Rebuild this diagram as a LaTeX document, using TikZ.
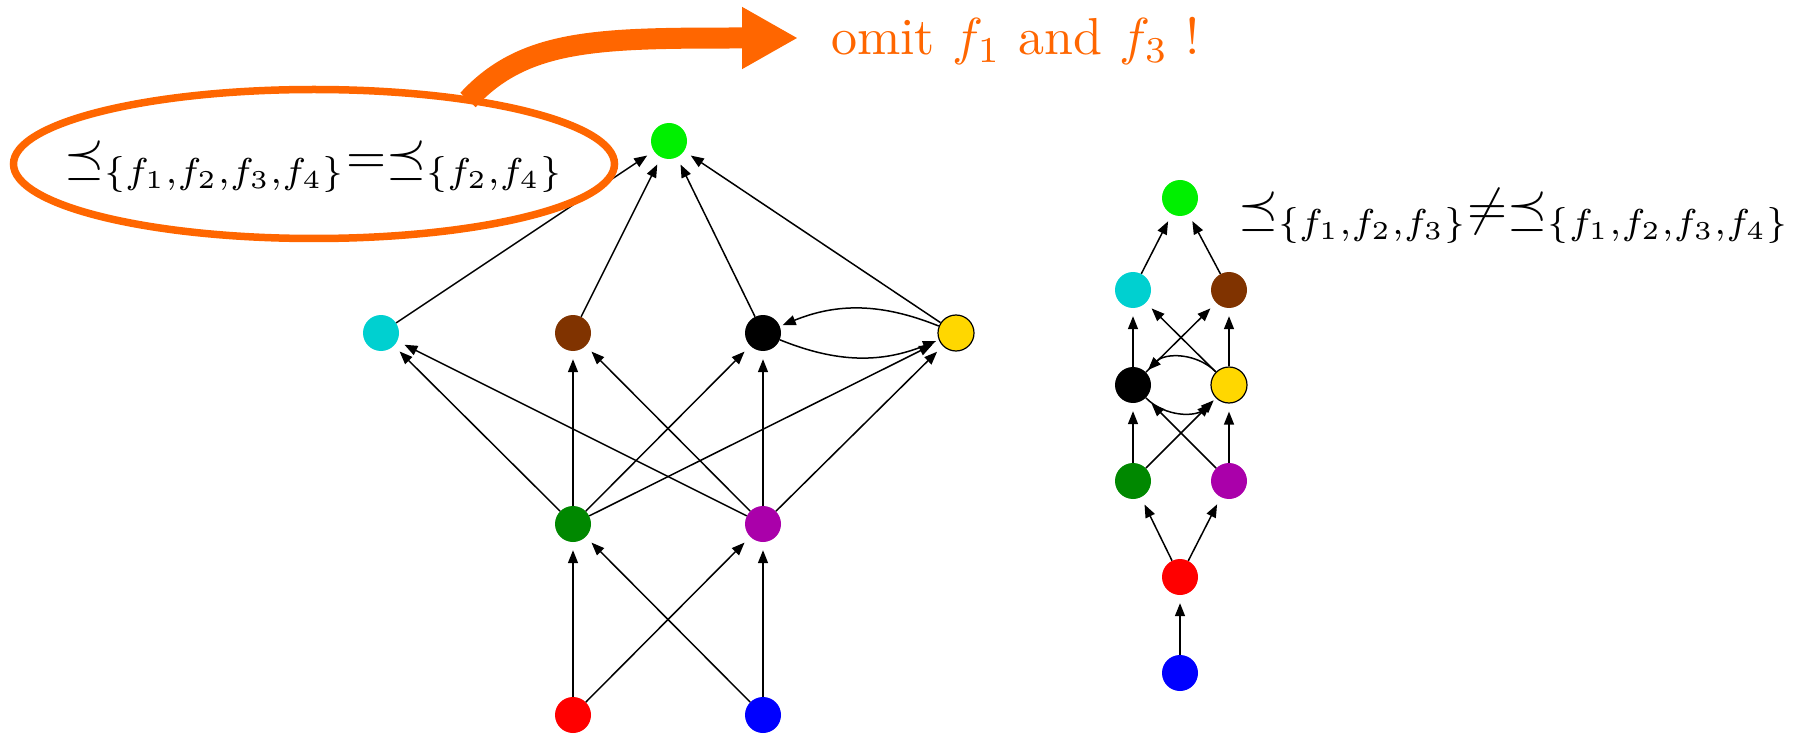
\documentclass[tikz,border=0pt]{standalone}
\usetikzlibrary{arrows.meta,shapes.geometric}
\definecolor{orng}{RGB}{255,102,0}
\definecolor{cTop}{RGB}{0,240,0}
\definecolor{cCyan}{RGB}{0,208,208}
\definecolor{cBrown}{RGB}{128,51,0}
\definecolor{cGold}{RGB}{255,215,0}
\definecolor{cDkGreen}{RGB}{0,136,0}
\definecolor{cPurple}{RGB}{170,0,170}
\definecolor{cRed}{RGB}{255,0,0}
\definecolor{cBlue}{RGB}{0,0,255}
\begin{document}
\begin{tikzpicture}[x=1pt,y=-1pt,
  vert/.style={circle,minimum size=36pt,inner sep=0pt,fill=#1},
  edge/.style={line width=1.5pt,-{Triangle[length=13pt,width=10pt]},shorten >=8pt},
  bigmath/.style={scale=5.15,transform shape,inner sep=0pt,anchor=base west}]
\useasboundingbox (0,0) rectangle (1809,735);
% ---------- left graph ----------
\node[vert=cTop] (L1) at (669,141) {};
\node[vert=cCyan] (Lc) at (381,333) {};
\node[vert=cBrown] (Lb) at (573,333) {};
\node[vert=black] (Lk) at (763,333) {};
\node[vert=cGold,draw=black,line width=1.2pt] (Ly) at (956,333) {};
\node[vert=cDkGreen] (Lg) at (573,524) {};
\node[vert=cPurple] (Lp) at (763,524) {};
\node[vert=cRed] (Lr) at (573,715) {};
\node[vert=cBlue] (Lu) at (763,715) {};
\foreach \a in {Lc,Lb,Lk,Ly} \draw[edge] (\a) -- (L1);
\foreach \a in {Lg,Lp} \foreach \b in {Lc,Lb,Lk,Ly} \draw[edge] (\a) -- (\b);
\foreach \a in {Lr,Lu} \foreach \b in {Lg,Lp} \draw[edge] (\a) -- (\b);
\draw[edge,shorten >=3pt] (Ly) to[bend right=22] (Lk);
\draw[edge,shorten >=3pt] (Lk) to[bend right=22] (Ly);
% ---------- right graph ----------
\node[vert=cTop] (R1) at (1180,198) {};
\node[vert=cCyan] (Rc) at (1133,290) {};
\node[vert=cBrown] (Rb) at (1229,290) {};
\node[vert=black] (Rk) at (1133,385) {};
\node[vert=cGold,draw=black,line width=1.2pt] (Ry) at (1229,385) {};
\node[vert=cDkGreen] (Rg) at (1133,481) {};
\node[vert=cPurple] (Rp) at (1229,481) {};
\node[vert=cRed] (Rr) at (1180,577) {};
\node[vert=cBlue] (Ru) at (1180,673) {};
\foreach \a in {Rc,Rb} \draw[edge] (\a) -- (R1);
\foreach \a in {Rk,Ry} \foreach \b in {Rc,Rb} \draw[edge] (\a) -- (\b);
\foreach \a in {Rg,Rp} \foreach \b in {Rk,Ry} \draw[edge] (\a) -- (\b);
\foreach \b in {Rg,Rp} \draw[edge] (Rr) -- (\b);
\draw[edge] (Ru) -- (Rr);
\draw[edge,shorten >=3pt] (Ry) to[bend right=45] (Rk);
\draw[edge,shorten >=3pt] (Rk) to[bend right=45] (Ry);
% ---------- texts ----------
\node[ellipse,draw=orng,line width=7.5pt,minimum width=601pt,minimum height=149pt,inner sep=0pt] (ell) at (314,164) {};
\node[bigmath] (eqL) at (63,174) {${\preceq}_{\{f_1,f_2,f_3,f_4\}}{=}{\preceq}_{\{f_2,f_4\}}$};
\node[bigmath] (eqR) at (1237,225) {${\preceq}_{\{f_1,f_2,f_3\}}{\neq}{\preceq}_{\{f_1,f_2,f_3,f_4\}}$};
\node[anchor=base west,text=orng,scale=5.2,transform shape,inner sep=0pt] (omit) at (830,55) {omit $f_1$ and $f_3$ !};
% ---------- orange arrow ----------
\coordinate (as) at (468,100);
\coordinate (ae) at (798,38);
\draw[orng,line width=21pt,-{Triangle[length=56pt,width=58pt]}] (as) .. controls (525,38) and (600,38) .. (ae);
\end{tikzpicture}
\end{document}
